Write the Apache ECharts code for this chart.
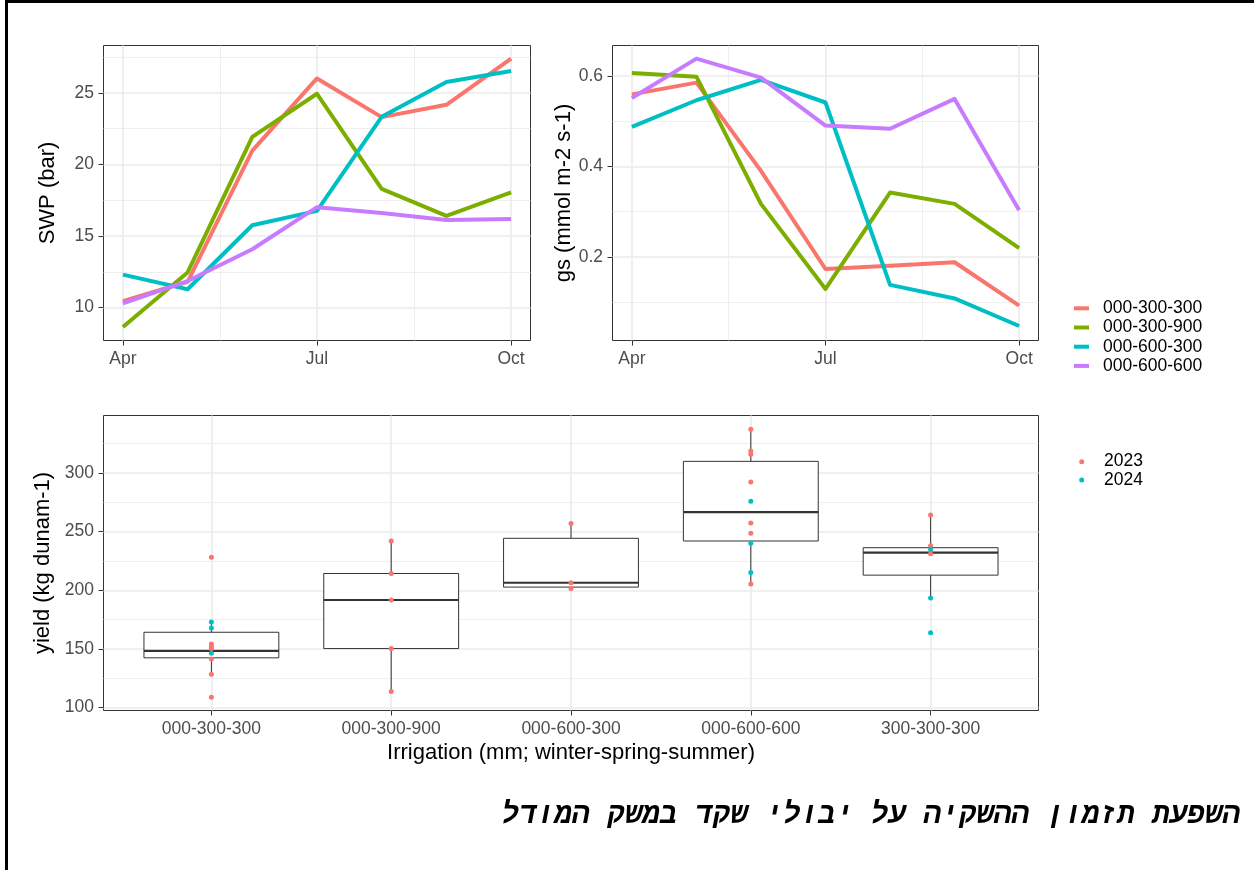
<!DOCTYPE html>
<html>
<head>
<meta charset="utf-8">
<script src="https://cdn.jsdelivr.net/npm/echarts@6/dist/echarts.min.js"></script>
<style>
  html, body { margin: 0; padding: 0; background: #fff; }
  #chart { position: absolute; left: 0; top: 0; width: 1254px; height: 870px; }
  #frame { position: absolute; left: 5px; top: 0; width: 1300px; height: 900px;
           border-top: 3px solid #000; border-left: 3px solid #000; pointer-events: none; }
  #caption { position: absolute; right: 14px; top: 801px; direction: rtl; white-space: nowrap;
             font-family: 'Liberation Mono', 'DejaVu Sans Mono', monospace; font-weight: bold; font-style: italic;
             font-size: 29.3px; line-height: 29px; color: #000; }
</style>
</head>
<body>
<div id="chart"></div>
<div id="frame"></div>
<div id="caption" dir="rtl">השפעת תזמון ההשקיה על יבולי שקד במשק המודל</div>
<script>
// ---------------- data ----------------
const months = ['Apr', 'May', 'Jun', 'Jul', 'Aug', 'Sep', 'Oct'];
const monthTicks = ['Apr', 'Jul', 'Oct'];
const treatments = ['000-300-300', '000-300-900', '000-600-300', '000-600-600'];

const swp_000_300_300 = [10.45, 11.8, 20.96, 26.0, 23.3, 24.16, 27.38];
const swp_000_300_900 = [8.64, 12.45, 21.92, 24.93, 18.29, 16.40, 18.04];
const swp_000_600_300 = [12.3, 11.28, 15.75, 16.75, 23.32, 25.75, 26.52];
const swp_000_600_600 = [10.3, 11.85, 14.07, 17.01, 16.6, 16.12, 16.19];

const gs_000_300_300 = [0.559, 0.585, 0.390, 0.173, 0.180, 0.188, 0.092];
const gs_000_300_900 = [0.606, 0.598, 0.317, 0.129, 0.342, 0.317, 0.219];
const gs_000_600_300 = [0.487, 0.546, 0.591, 0.541, 0.138, 0.108, 0.047];
const gs_000_600_600 = [0.551, 0.638, 0.596, 0.490, 0.483, 0.549, 0.303];

const swpTicks = [10, 15, 20, 25];
const gsTicks = [0.2, 0.4, 0.6];
const yieldTicks = [100, 150, 200, 250, 300];

const irrigation = ['000-300-300', '000-300-900', '000-600-300', '000-600-600', '300-300-300'];
const years = ['2023', '2024'];
const yield2023 = [
  [228.2, 154.3, 151.8, 150.3, 141.3, 128.3, 108.7],
  [242.0, 214.3, 191.7, 150.3, 113.8],
  [257.0, 206.4, 201.5],
  [337.2, 318.7, 315.9, 292.4, 257.3, 248.6, 205.3],
  [264.1, 238.0, 231.2]
];
const yield2024 = [
  [173.0, 167.9, 146.4],
  [],
  [],
  [276.0, 240.1, 215.1],
  [235.0, 193.4, 163.7]
];
const boxLow = [128.3, 113.8, 201.5, 205.3, 193.4];
const boxQ1 = [142.4, 150.3, 202.7, 242.0, 212.9];
const boxMedian = [148.4, 191.7, 206.4, 266.6, 232.1];
const boxQ3 = [164.2, 214.3, 244.3, 309.9, 236.3];
const boxHigh = [173.0, 242.0, 257.0, 337.2, 264.1];

// ---------------- styles / layout ----------------
const FONT = "'Liberation Sans', Arial, Helvetica, sans-serif";
const lineColors = ['#F8766D', '#7CAE00', '#00BFC4', '#C77CFF'];
const yearColors = ['#F8766D', '#00BFC4'];
const GRID_COLOR = '#EBEBEB';
const TICK_FS = 17.5, TITLE_FS = 22;

const panels = [
  { left: 103.5, top: 45.5, width: 427, height: 295 },
  { left: 612.5, top: 45.5, width: 426, height: 295 },
  { left: 103.5, top: 415.5, width: 935, height: 295 }
];

const swpSeries = [swp_000_300_300, swp_000_300_900, swp_000_600_300, swp_000_600_600];
const gsSeries = [gs_000_300_300, gs_000_300_900, gs_000_600_300, gs_000_600_600];

function gridAxis(dim, gridIndex, min, max, step, vals, width) {
  const n = Math.ceil((max - min) / step) + 4;
  const colors = new Array(n).fill('rgba(0,0,0,0)');
  vals.forEach(v => { colors[Math.round((v - min) / step)] = GRID_COLOR; });
  return {
    type: 'value', gridIndex, min, max, interval: step,
    position: dim === 'x' ? 'top' : 'right',
    axisLine: { show: false, onZero: false }, axisTick: { show: false }, axisLabel: { show: false },
    minorTick: { show: false }, minorSplitLine: { show: false },
    splitLine: { show: true, showMinLine: true, showMaxLine: true, lineStyle: { color: colors, width } },
    silent: true, z: 0
  };
}

function mainAxis(dim, gridIndex, min, max, ticks, fmt, extra) {
  return Object.assign({
    type: 'value', gridIndex, min, max,
    position: dim === 'x' ? 'bottom' : 'left',
    axisLine: { show: false, onZero: false },
    axisTick: { show: true, inside: false, length: 5, customValues: ticks, lineStyle: { color: '#333333', width: 1 } },
    axisLabel: { show: true, customValues: ticks, formatter: fmt, color: '#4D4D4D', fontSize: TICK_FS,
                 fontFamily: FONT, margin: 9.5 },
    splitLine: { show: false }, minorTick: { show: false }, minorSplitLine: { show: false },
    nameTextStyle: { color: '#000', fontSize: TITLE_FS, fontFamily: FONT }
  }, extra || {});
}

const monthIdx = monthTicks.map(m => months.indexOf(m));
const monthMinor = [(monthIdx[0] + monthIdx[1]) / 2, (monthIdx[1] + monthIdx[2]) / 2];
const catIdx = irrigation.map((c, i) => i + 1);

const xAxis = [
  mainAxis('x', 0, -0.3, 6.3, monthIdx, v => months[Math.round(v)]),
  gridAxis('x', 0, -0.3, 6.3, 0.3, monthIdx, 1.6),
  gridAxis('x', 0, -0.3, 6.3, 0.3, monthMinor, 0.8),
  mainAxis('x', 1, -0.3, 6.3, monthIdx, v => months[Math.round(v)]),
  gridAxis('x', 1, -0.3, 6.3, 0.3, monthIdx, 1.6),
  gridAxis('x', 1, -0.3, 6.3, 0.3, monthMinor, 0.8),
  mainAxis('x', 2, 0.4, 5.6, catIdx, v => irrigation[Math.round(v) - 1], {
    name: 'Irrigation (mm; winter-spring-summer)', nameLocation: 'middle', nameGap: 31
  }),
  gridAxis('x', 2, 0.4, 5.6, 0.2, catIdx, 1.6)
];

function minorsOf(ticks) {
  const step = ticks[1] - ticks[0];
  const out = [ticks[0] - step / 2];
  ticks.forEach(t => out.push(+(t + step / 2).toFixed(6)));
  return out;
}

const yRanges = [[7.7, 28.3, 0.1], [0.015, 0.667, 0.005], [97.5, 349, 2.5]];
const yAxis = [
  mainAxis('y', 0, yRanges[0][0], yRanges[0][1], swpTicks, v => String(Math.round(v)), {
    name: 'SWP (bar)', nameLocation: 'middle', nameGap: 45
  }),
  gridAxis('y', 0, yRanges[0][0], yRanges[0][1], yRanges[0][2], swpTicks, 1.6),
  gridAxis('y', 0, yRanges[0][0], yRanges[0][1], yRanges[0][2], minorsOf(swpTicks).filter(v => v > yRanges[0][0] && v < yRanges[0][1]), 0.8),
  mainAxis('y', 1, yRanges[1][0], yRanges[1][1], gsTicks, v => v.toFixed(1), {
    name: 'gs (mmol m-2 s-1)', nameLocation: 'middle', nameGap: 38
  }),
  gridAxis('y', 1, yRanges[1][0], yRanges[1][1], yRanges[1][2], gsTicks, 1.6),
  gridAxis('y', 1, yRanges[1][0], yRanges[1][1], yRanges[1][2], minorsOf(gsTicks).filter(v => v > yRanges[1][0] && v < yRanges[1][1]), 0.8),
  mainAxis('y', 2, yRanges[2][0], yRanges[2][1], yieldTicks, v => String(Math.round(v)), {
    name: 'yield (kg dunam-1)', nameLocation: 'middle', nameGap: 45
  }),
  gridAxis('y', 2, yRanges[2][0], yRanges[2][1], yRanges[2][2], yieldTicks, 1.6),
  gridAxis('y', 2, yRanges[2][0], yRanges[2][1], yRanges[2][2], minorsOf(yieldTicks).filter(v => v > yRanges[2][0] && v < yRanges[2][1]), 0.8)
];

const series = [];
[swpSeries, gsSeries].forEach((group, p) => {
  group.forEach((vals, k) => {
    series.push({
      type: 'line', name: treatments[k], xAxisIndex: p * 3, yAxisIndex: p * 3,
      data: vals.map((v, i) => [i, v]),
      symbol: 'none', smooth: false, z: 3,
      color: lineColors[k],
      itemStyle: { color: lineColors[k] },
      lineStyle: { color: lineColors[k], width: 4, cap: 'butt', join: 'round' },
      emphasis: { disabled: true }
    });
  });
});

series.push({
  type: 'custom', name: 'box', xAxisIndex: 6, yAxisIndex: 6, z: 3, silent: true,
  data: irrigation.map((c, i) => [i + 1, boxLow[i], boxQ1[i], boxMedian[i], boxQ3[i], boxHigh[i]]),
  encode: { x: 0, y: [1, 2, 3, 4, 5] },
  renderItem: function (params, api) {
    const x = api.value(0);
    const half = api.size([0.75, 0])[0] / 2;
    const pLow = api.coord([x, api.value(1)]);
    const pQ1 = api.coord([x, api.value(2)]);
    const pMed = api.coord([x, api.value(3)]);
    const pQ3 = api.coord([x, api.value(4)]);
    const pHigh = api.coord([x, api.value(5)]);
    const st = { stroke: '#333333', lineWidth: 1, fill: null };
    return {
      type: 'group',
      children: [
        { type: 'line', shape: { x1: pLow[0], y1: pLow[1], x2: pQ1[0], y2: pQ1[1] }, style: st },
        { type: 'line', shape: { x1: pQ3[0], y1: pQ3[1], x2: pHigh[0], y2: pHigh[1] }, style: st },
        { type: 'rect', shape: { x: pQ3[0] - half, y: pQ3[1], width: 2 * half, height: pQ1[1] - pQ3[1] },
          style: { fill: '#ffffff', stroke: '#333333', lineWidth: 1 } },
        { type: 'line', shape: { x1: pMed[0] - half, y1: pMed[1], x2: pMed[0] + half, y2: pMed[1] },
          style: { stroke: '#333333', lineWidth: 2.2 } }
      ]
    };
  }
});

[yield2023, yield2024].forEach((byCat, y) => {
  const data = [];
  byCat.forEach((vals, c) => vals.forEach(v => data.push([c + 1, v])));
  series.push({
    type: 'scatter', name: years[y], xAxisIndex: 6, yAxisIndex: 6, z: 4,
    data, symbol: 'circle', symbolSize: 5,
    itemStyle: { color: yearColors[y], opacity: 1, borderWidth: 0 },
    emphasis: { disabled: true }
  });
});

const option = {
  animation: false,
  backgroundColor: '#ffffff',
  textStyle: { fontFamily: FONT },
  tooltip: { show: false },
  grid: panels.map(p => Object.assign({}, p, {
    show: true, borderColor: '#333333', borderWidth: 1, backgroundColor: 'rgba(0,0,0,0)',
    containLabel: false, outerBoundsMode: 'none'
  })),
  xAxis, yAxis,
  legend: [
    {
      data: treatments.map(n => ({ name: n, icon: 'rect' })),
      orient: 'vertical', left: 1074, top: 298.8, padding: 0,
      itemWidth: 15, itemHeight: 4, itemGap: 0.2, selectedMode: false,
      textStyle: { fontSize: TICK_FS, color: '#000', fontFamily: FONT, lineHeight: 19, padding: [0, 0, 0, 9] }
    },
    {
      data: years.map(n => ({ name: n, icon: 'circle' })),
      orient: 'vertical', left: 1079.2, top: 452.5, padding: 0,
      itemWidth: 5, itemHeight: 5, itemGap: 0, selectedMode: false,
      textStyle: { fontSize: TICK_FS, color: '#000', fontFamily: FONT, lineHeight: 18.3, padding: [0, 0, 0, 14.8] }
    }
  ],
  series
};

const chart = echarts.init(document.getElementById('chart'), null, { renderer: 'canvas' });
chart.setOption(option);
</script>
</body>
</html>
